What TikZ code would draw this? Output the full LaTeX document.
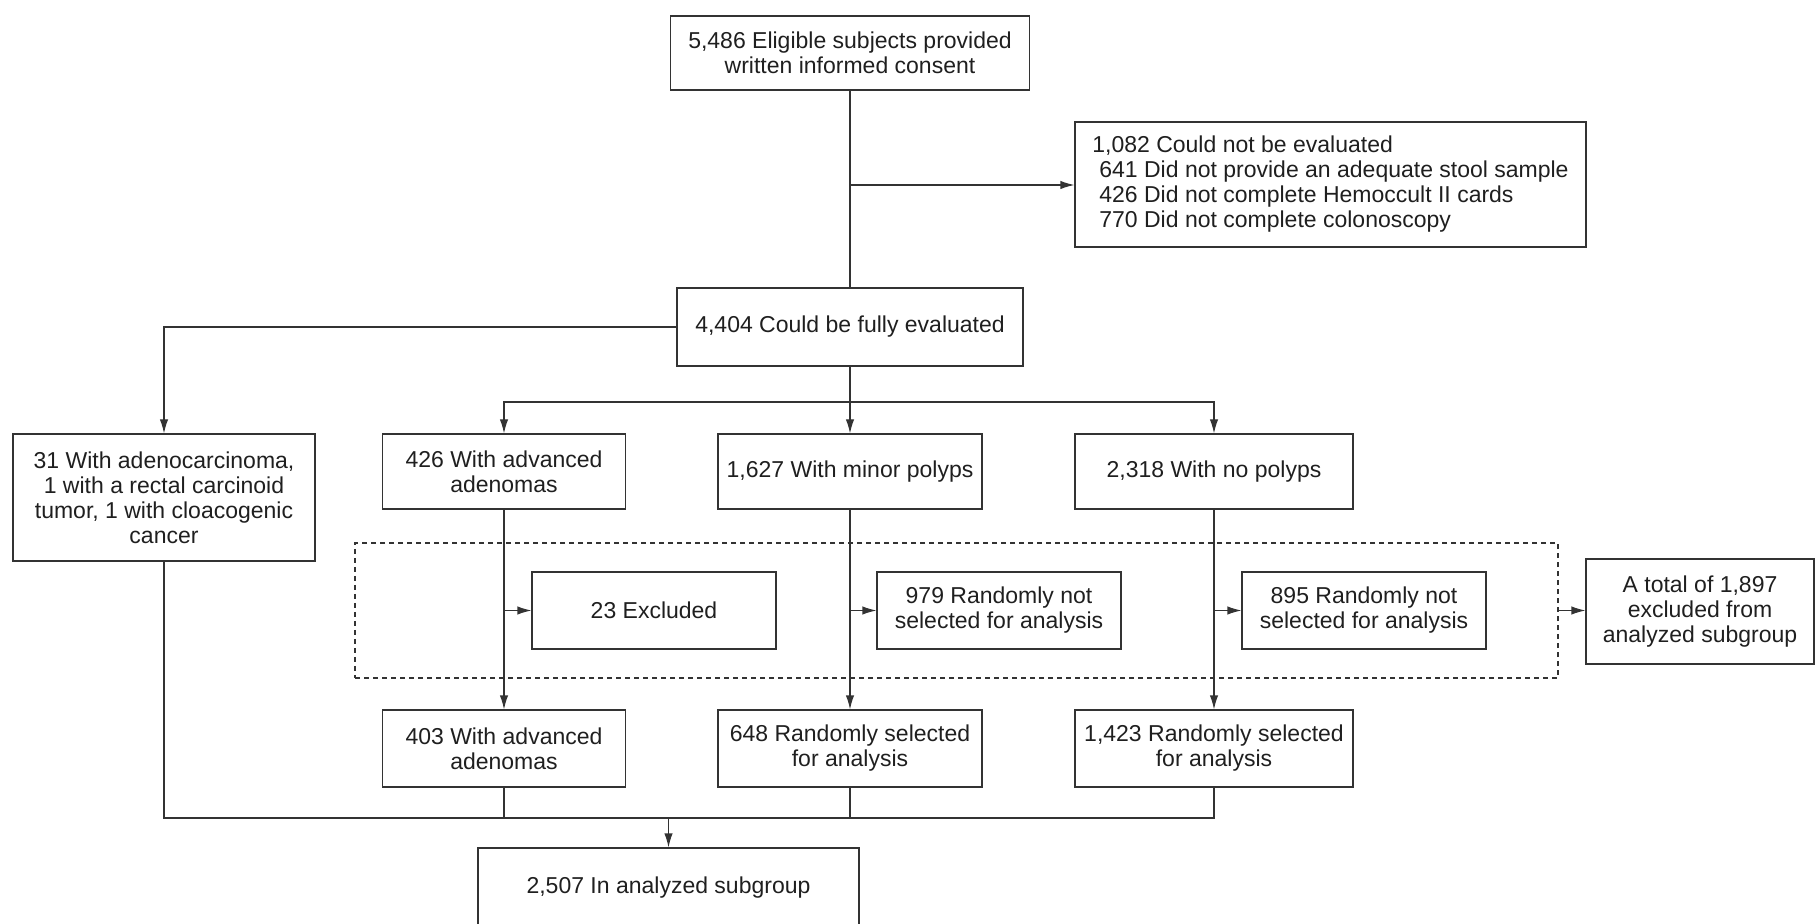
\documentclass[tikz,border=0pt]{standalone}
\usepackage{fontspec}
\setmainfont{Liberation Sans}
\usetikzlibrary{arrows.meta}
\definecolor{linegray}{gray}{0.2}
\definecolor{textgray}{gray}{0.12}

\begin{document}
\begin{tikzpicture}[
    x=0.5pt, y=-0.5pt,
    box/.style={draw=linegray, line width=0.6pt, align=center, inner sep=0pt, text=textgray, font=\fontsize{11.5}{12.5}\selectfont},
    group/.style={draw=linegray, line width=0.6pt, dash pattern=on 2.5pt off 2pt, inner sep=0pt},
    arrow/.style={-{Latex[length=7pt,width=4.2pt]}, line width=0.6pt, draw=linegray},
    line/.style={line width=0.6pt, draw=linegray}
]
\useasboundingbox (0,0) rectangle (1815,924);

% Enrolment
\node[box, minimum width=179.5pt, minimum height=37pt] (consent) at (850,53) {5,486 Eligible subjects provided\\written informed consent};
\node[box, align=left, minimum width=255.5pt, minimum height=62.5pt] (couldnot) at (1330.5,184.5)
    {1,082 Could not be evaluated\\
     \hspace*{3.5pt}641 Did not provide an adequate stool sample\\
     \hspace*{3.5pt}426 Did not complete Hemoccult II cards\\
     \hspace*{3.5pt}770 Did not complete colonoscopy};
\node[box, minimum width=173pt, minimum height=39pt] (full) at (850,327) {4,404 Could be fully evaluated};

% Findings
\node[box, minimum width=151pt, minimum height=63.5pt] (adeno) at (164,497.5) {31 With adenocarcinoma,\\1 with a rectal carcinoid\\tumor, 1 with cloacogenic\\cancer};
\node[box, minimum width=121.5pt, minimum height=37.5pt] (adv) at (504,471.5) {426 With advanced\\adenomas};
\node[box, minimum width=132pt, minimum height=37.5pt] (minor) at (850,471.5) {1,627 With minor polyps};
\node[box, minimum width=139pt, minimum height=37.5pt] (nopolyps) at (1214,471.5) {2,318 With no polyps};

% Exclusions (dashed group)
\node[group, minimum width=601.5pt, minimum height=67.5pt] (grp) at (956.5,610.5) {};
\node[box, minimum width=122pt, minimum height=38.5pt] (excl) at (654,610.5) {23 Excluded};
\node[box, minimum width=122pt, minimum height=38.5pt] (notsel1) at (999,610.5) {979 Randomly not\\selected for analysis};
\node[box, minimum width=122pt, minimum height=38.5pt] (notsel2) at (1364,610.5) {895 Randomly not\\selected for analysis};
\node[box, minimum width=114pt, minimum height=52.5pt] (total) at (1700,611.5) {A total of 1,897\\excluded from\\analyzed subgroup};

% Selected
\node[box, minimum width=121.5pt, minimum height=38.5pt] (adv2) at (504,748.5) {403 With advanced\\adenomas};
\node[box, minimum width=132pt, minimum height=38.5pt] (sel1) at (850,748.5) {648 Randomly selected\\for analysis};
\node[box, minimum width=139pt, minimum height=38.5pt] (sel2) at (1214,748.5) {1,423 Randomly selected\\for analysis};
\node[box, minimum width=190.5pt, minimum height=40pt] (analyzed) at (668.5,888) {2,507 In analyzed subgroup};

% Connectors
\coordinate (b1) at (850,185);
\coordinate (split) at (850,402);
\coordinate (merge) at (668.5,818);

\draw[line] (consent.south) -- (full.north);
\draw[arrow] (b1) -- (b1 -| couldnot.west);
\draw[arrow] (full.west) -| (adeno.north);
\draw[line] (full.south) -- (split);
\draw[arrow] (split) -| (adv.north);
\draw[arrow] (split) -- (minor.north);
\draw[arrow] (split) -| (nopolyps.north);

\draw[arrow] (adv.south) -- (adv2.north);
\draw[arrow] (minor.south) -- (sel1.north);
\draw[arrow] (nopolyps.south) -- (sel2.north);
\draw[arrow] (adv.south |- excl.west) -- (excl.west);
\draw[arrow] (minor.south |- notsel1.west) -- (notsel1.west);
\draw[arrow] (nopolyps.south |- notsel2.west) -- (notsel2.west);
\draw[arrow] (grp.east) -- (grp.east -| total.west);

\draw[line] (adeno.south) |- (sel2.south |- merge) -- (sel2.south);
\draw[line] (adv2.south) -- (adv2.south |- merge);
\draw[line] (sel1.south) -- (sel1.south |- merge);
\draw[arrow] (merge) -- (analyzed.north);

\end{tikzpicture}
\end{document}
